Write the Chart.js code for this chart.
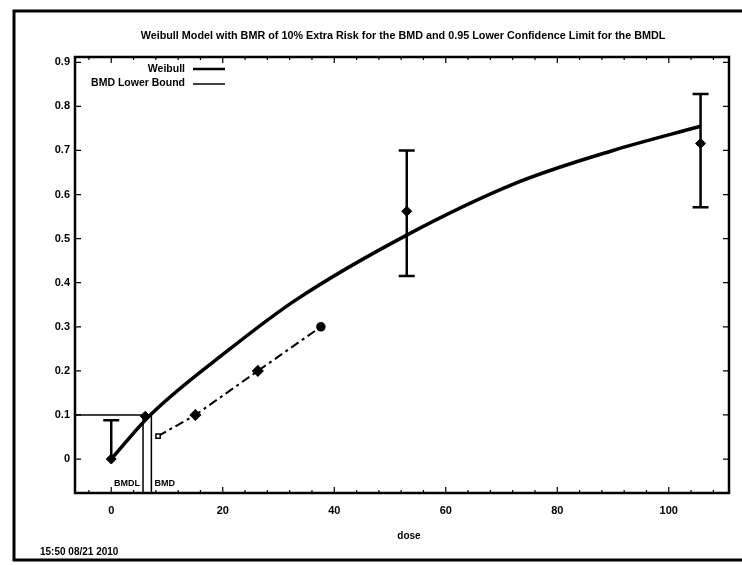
<!DOCTYPE html>
<html>
<head>
<meta charset="utf-8">
<script src="https://cdn.jsdelivr.net/npm/chart.js@4.4.0/dist/chart.umd.min.js"></script>
<style>
html, body { margin: 0; padding: 0; background: #fff; }
canvas { display: block; }
</style>
</head>
<body>
<canvas id="bmdChart" width="742" height="565"></canvas>
<script>
// observed group data (mean + confidence bars)
var doses = [0, 6.1, 53, 105.7]
var means = [0, 0.097, 0.562, 0.716]
var errLow = [0, null, 0.415, 0.571]
var errHigh = [0.088, null, 0.70, 0.828]

// fitted weibull curve
var curveDose = [0, 7, 21, 33, 53, 73, 90, 105.7]
var curveResp = [0, 0.1, 0.247, 0.36, 0.508, 0.628, 0.70, 0.755]

// BMD lower bound line
var lbDose = [8.4, 15.1, 26.3, 37.6]
var lbResp = [0.052, 0.1, 0.2, 0.3]

var bmr = 0.1
var bmd = 7.2
var bmdl = 5.7

var xTicks = [0, 20, 40, 60, 80, 100]
var yTicks = [0, 0.1, 0.2, 0.3, 0.4, 0.5, 0.6, 0.7, 0.8, 0.9]
var xMin = -6.5, xMax = 110.8
var yMin = -0.077, yMax = 0.912

var titleText = 'Weibull Model with BMR of 10% Extra Risk for the BMD and 0.95 Lower Confidence Limit for the BMDL'
var legendNames = ['Weibull', 'BMD Lower Bound']
var xTitle = 'dose'
var stamp = '15:50 08/21 2010'

function pts(xs, ys) {
    return xs.map(function (x, i) { return {x: x, y: ys[i]} })
}

var fontName = '"Liberation Sans", Arial, sans-serif'

// extra bits the old BMDS plot has: error bars, frame, inward ticks, texts
var bmdsDecor = {
    id: 'bmdsDecor',
    afterDatasetsDraw: function (chart) {
        var ctx = chart.ctx
        var xs = chart.scales.x, ys = chart.scales.y
        ctx.save()
        ctx.strokeStyle = '#000'
        ctx.lineWidth = 2.5
        for (var i = 0; i < doses.length; i++) {
            if (errHigh[i] == null) continue
            var px = xs.getPixelForValue(doses[i])
            var top = ys.getPixelForValue(errHigh[i])
            var bot = ys.getPixelForValue(errLow[i])
            ctx.beginPath()
            ctx.moveTo(px, top); ctx.lineTo(px, bot)
            ctx.moveTo(px - 8, top); ctx.lineTo(px + 8, top)
            if (errLow[i] > 0) { ctx.moveTo(px - 8, bot); ctx.lineTo(px + 8, bot) }
            ctx.stroke()
        }
        ctx.restore()
    },
    afterDraw: function (chart) {
        var ctx = chart.ctx
        var a = chart.chartArea
        var xs = chart.scales.x, ys = chart.scales.y
        ctx.save()
        ctx.strokeStyle = '#000'
        ctx.fillStyle = '#000'

        // plot frame
        ctx.lineWidth = 2.5
        ctx.strokeRect(a.left, a.top, a.right - a.left, a.bottom - a.top)

        // inward tick marks
        ctx.lineWidth = 1.2
        ctx.beginPath()
        for (var v = -4; v <= 108; v += 4) {
            var len = (v % 20 === 0) ? 6 : 3
            var px = xs.getPixelForValue(v)
            ctx.moveTo(px, a.bottom); ctx.lineTo(px, a.bottom - len)
            ctx.moveTo(px, a.top); ctx.lineTo(px, a.top + len)
        }
        yTicks.forEach(function (t) {
            var py = ys.getPixelForValue(t)
            ctx.moveTo(a.left, py); ctx.lineTo(a.left + 6, py)
            ctx.moveTo(a.right, py); ctx.lineTo(a.right - 6, py)
        })
        ctx.stroke()

        // title
        ctx.font = 'bold 10.8px ' + fontName
        ctx.textAlign = 'center'
        ctx.textBaseline = 'middle'
        ctx.fillText(titleText, (a.left + a.right) / 2 + 1, 36)

        // legend, top left inside the frame
        ctx.font = 'bold 10.5px ' + fontName
        ctx.textAlign = 'right'
        ctx.fillText(legendNames[0], 185, 69)
        ctx.fillText(legendNames[1], 185, 83)
        ctx.lineWidth = 2.5
        ctx.beginPath(); ctx.moveTo(193, 69); ctx.lineTo(225, 69); ctx.stroke()
        ctx.lineWidth = 1.5
        ctx.beginPath(); ctx.moveTo(193, 84); ctx.lineTo(225, 84); ctx.stroke()

        // BMDL / BMD labels at the foot of the lines
        ctx.font = 'bold 9px ' + fontName
        ctx.textAlign = 'right'
        ctx.fillText('BMDL', xs.getPixelForValue(bmdl) - 3, 484)
        ctx.textAlign = 'left'
        ctx.fillText('BMD', xs.getPixelForValue(bmd) + 3, 484)

        // axis title and time stamp
        ctx.font = 'bold 10px ' + fontName
        ctx.textAlign = 'center'
        ctx.fillText(xTitle, (a.left + a.right) / 2 + 7, 536)
        ctx.textAlign = 'left'
        ctx.fillText(stamp, 40, 552)

        // outer page border
        ctx.lineWidth = 3
        ctx.strokeRect(14, 11, 745, 549)
        ctx.restore()
    }
}

var ctx = document.getElementById('bmdChart').getContext('2d')
var chart = new Chart(ctx, {
    type: 'scatter',
    data: {
        datasets: [
            {
                label: legendNames[0],
                data: pts(curveDose, curveResp),
                showLine: true,
                borderColor: '#000',
                borderWidth: 3.5,
                pointRadius: 0,
                cubicInterpolationMode: 'monotone'
            },
            {
                label: legendNames[1],
                data: pts(lbDose, lbResp),
                showLine: true,
                borderColor: '#000',
                borderWidth: 2,
                borderDash: [9, 4, 3, 4],
                pointStyle: ['rect', 'rectRot', 'rectRot', 'circle'],
                pointRadius: [3, 5, 5, 4],
                pointBackgroundColor: ['#fff', '#000', '#000', '#000'],
                pointBorderColor: '#000',
                pointBorderWidth: 1.5
            },
            {
                label: 'data',
                data: pts(doses, means),
                showLine: false,
                pointStyle: 'rectRot',
                pointRadius: 5,
                pointBackgroundColor: '#000',
                pointBorderColor: '#000'
            },
            {
                label: 'bmr',
                data: [{x: xMin, y: bmr}, {x: bmd, y: bmr}],
                showLine: true,
                borderColor: '#000',
                borderWidth: 1.5,
                pointRadius: 0
            },
            {
                label: 'bmdl',
                data: [{x: bmdl, y: bmr}, {x: bmdl, y: yMin}],
                showLine: true,
                borderColor: '#000',
                borderWidth: 1.5,
                pointRadius: 0
            },
            {
                label: 'bmd',
                data: [{x: bmd, y: bmr}, {x: bmd, y: yMin}],
                showLine: true,
                borderColor: '#000',
                borderWidth: 1.5,
                pointRadius: 0
            }
        ]
    },
    options: {
        responsive: false,
        animation: false,
        layout: {
            padding: {left: 0, top: 57, right: 13, bottom: 42}
        },
        plugins: {
            legend: {display: false},
            tooltip: {enabled: false},
            title: {display: false}
        },
        scales: {
            x: {
                type: 'linear',
                min: xMin,
                max: xMax,
                afterBuildTicks: function (s) { s.ticks = xTicks.map(function (v) { return {value: v} }) },
                afterFit: function (s) { s.height = 30 },
                grid: {display: false, drawTicks: false},
                border: {display: false},
                ticks: {
                    color: '#000',
                    padding: 11,
                    maxRotation: 0,
                    font: {family: fontName, size: 11, weight: 'bold'}
                }
            },
            y: {
                type: 'linear',
                min: yMin,
                max: yMax,
                afterBuildTicks: function (s) { s.ticks = yTicks.map(function (v) { return {value: v} }) },
                afterFit: function (s) { s.width = 75 },
                grid: {display: false, drawTicks: false},
                border: {display: false},
                ticks: {
                    color: '#000',
                    padding: 5,
                    font: {family: fontName, size: 11, weight: 'bold'},
                    callback: function (v) { return String(v) }
                }
            }
        }
    },
    plugins: [bmdsDecor]
})
</script>
</body>
</html>
